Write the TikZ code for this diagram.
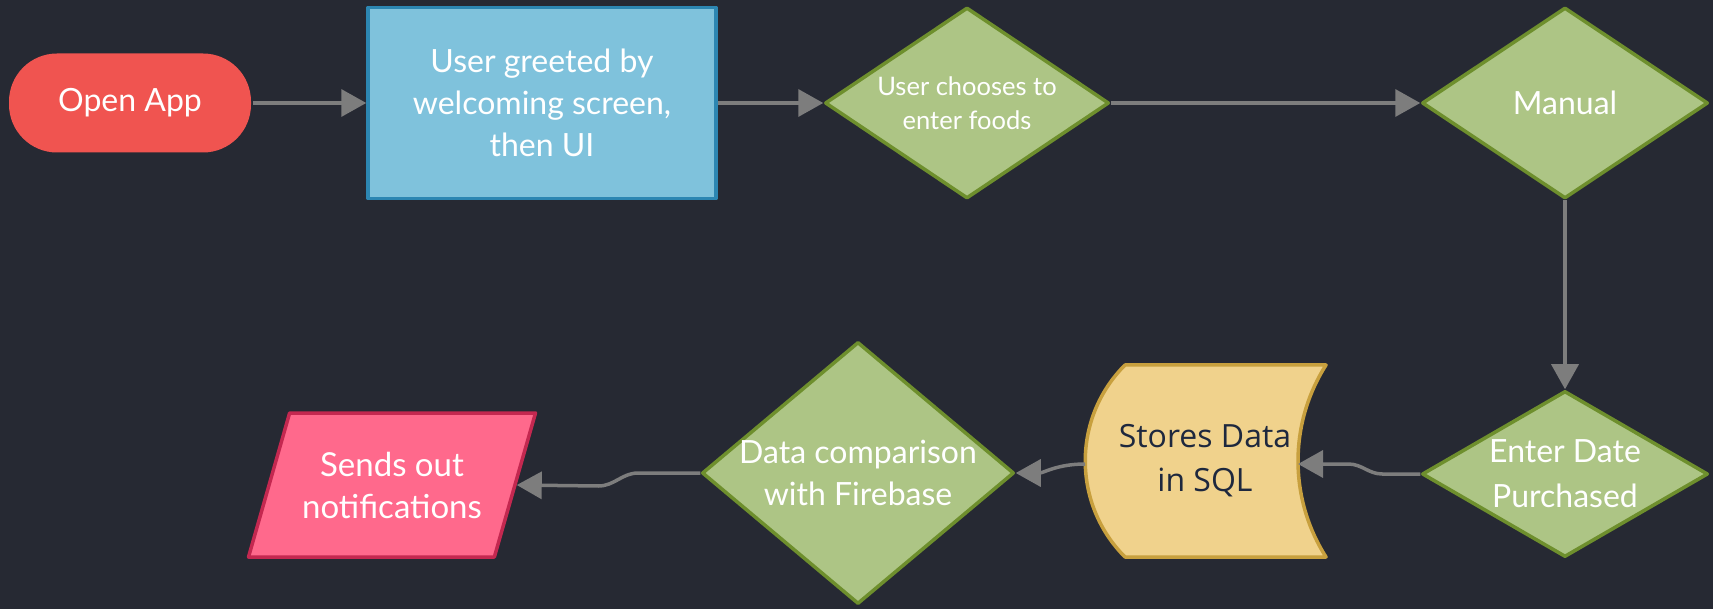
\documentclass[tikz,border=0pt]{standalone}
\usepackage{fontspec}
\setmainfont{Lato}
\newfontfamily\sqlfont{Open Sans}
\usetikzlibrary{shapes.geometric,arrows.meta}
\definecolor{bg}{RGB}{38,41,51}
\definecolor{arrowgray}{RGB}{125,125,125}
\definecolor{appred}{RGB}{240,84,80}
\definecolor{procfill}{RGB}{127,194,220}
\definecolor{procedge}{RGB}{44,134,178}
\definecolor{choicefill}{RGB}{173,197,133}
\definecolor{choiceedge}{RGB}{110,143,45}
\definecolor{sqlfill}{RGB}{240,210,140}
\definecolor{sqledge}{RGB}{200,160,62}
\definecolor{sqltext}{RGB}{30,40,62}
\definecolor{notifyfill}{RGB}{255,105,140}
\definecolor{notifyedge}{RGB}{196,40,80}
\begin{document}
\begin{tikzpicture}[x=1pt,y=-1pt,line join=round,
		>={Triangle[length=25pt,width=27pt]},
		flow/.style={->,draw=arrowgray,line width=3.5pt},
		base/.style={line width=3.5pt,text=white,align=center,font=\fontsize{32}{42}\selectfont},
		startbox/.style={base,rectangle,rounded corners=48pt,fill=appred,minimum width=242pt,minimum height=99pt},
		procbox/.style={base,rectangle,draw=procedge,fill=procfill,minimum width=348pt,minimum height=191pt},
		choice/.style={base,diamond,draw=choiceedge,fill=choicefill,inner sep=-20pt},
		notifybox/.style={base,trapezium,trapezium left angle=73,trapezium right angle=107,trapezium stretches body,draw=notifyedge,fill=notifyfill,minimum width=287pt,minimum height=144pt,inner xsep=0pt,inner ysep=34pt}]
	\fill[bg] (0,0) rectangle (1713,609);
	\useasboundingbox (0,0) rectangle (1713,609);
	% top row
	\node[startbox] (app) at (130,103) {Open App};
	\node[procbox] (greet) at (542,103) {User greeted by\\welcoming screen,\\then UI};
	\node[choice,minimum width=284pt,minimum height=191pt,font=\fontsize{25.5}{34}\selectfont] (choose) at (967,103) {User chooses to\\enter foods};
	\node[choice,minimum width=286pt,minimum height=191pt] (manual) at (1565,103) {Manual};
	% bottom row
	\node[choice,minimum width=286pt,minimum height=166pt,font=\fontsize{32}{45}\selectfont] (date) at (1565,474) {Enter Date\\Purchased};
	\draw[line width=3.5pt,draw=sqledge,fill=sqlfill] (1125,365) -- (1326,365) .. controls (1288.7,423.6) and (1288.7,498.4) .. (1326,557) -- (1125,557) .. controls (1072,504) and (1072,418) .. (1125,365) -- cycle;
	\node[font=\sqlfont\fontsize{32}{44}\selectfont,text=sqltext,align=center] (sql) at (1205,461) {Stores Data\\in SQL};
	\coordinate (sqlin) at (1298,464);
	\coordinate (sqlout) at (1085,464);
	\node[choice,minimum width=312pt,minimum height=262pt] (compare) at (858,473) {Data comparison\\with Firebase};
	\node[notifybox,font=\fontsize{33}{42}\selectfont] (notify) at (392,485) {Sends out\\notifications};
	% connectors
	\draw[flow] (app) -- (greet);
	\draw[flow] (greet) -- (choose);
	\draw[flow] (choose) -- (manual);
	\draw[flow] (manual) -- (date);
	\draw[flow] (date.west) -- ++(-38,0) to[out=180,in=0] ++(-34,-10) -- (sqlin);
	\draw[flow] (sqlout) to[out=180,in=0] (compare.east);
	\draw[flow] (compare.west) -- ++(-62,0) to[out=180,in=0] ++(-40,13) -- (notify.east);
\end{tikzpicture}
\end{document}
